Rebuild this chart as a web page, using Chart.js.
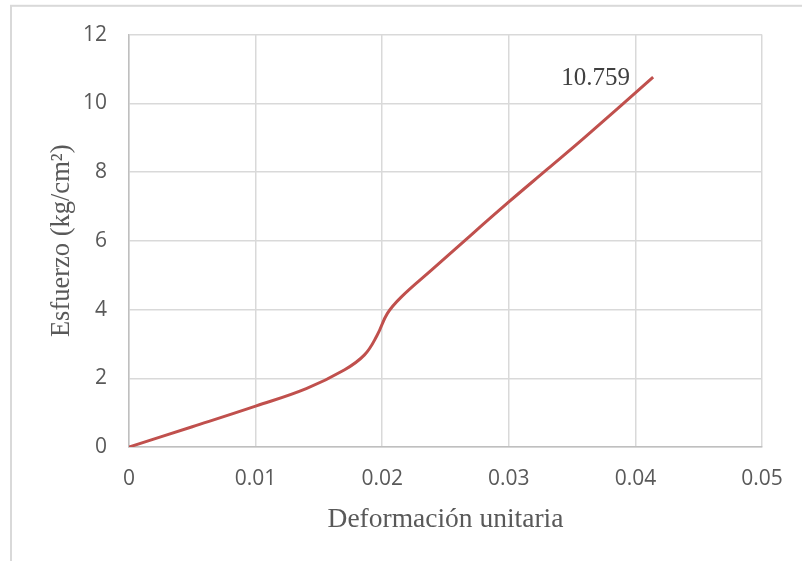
<!DOCTYPE html>
<html>
<head>
<meta charset="utf-8">
<script src="https://cdn.jsdelivr.net/npm/chart.js@4"></script>
<style>
  html, body { margin: 0; padding: 0; background: #fff; }
  canvas { display: block; }
</style>
</head>
<body>
<canvas id="c" width="802" height="561"></canvas>
<script>
// Unit strain (x) and stress in kg/cm² (y) of the test curve
const strain = [0, 0.005, 0.01, 0.0140, 0.0170, 0.0186, 0.0196, 0.0204,
                0.0215, 0.0240, 0.0265, 0.0300, 0.0330, 0.0360, 0.0414];
const stress = [0, 0.59, 1.19, 1.70, 2.24, 2.68, 3.25, 3.88,
                4.36, 5.18, 6.00, 7.13, 8.07, 9.01, 10.759];

const xTickLabels = ['0', '0.01', '0.02', '0.03', '0.04', '0.05'];
const yTickLabels = ['0', '2', '4', '6', '8', '10', '12'];

const xTitle = 'Deformación unitaria';
const yTitle = 'Esfuerzo (kg/cm²)';

const points = strain.map((x, i) => ({ x: x, y: stress[i] }));

// Outer frame and the value label at the last point
const decor = {
  id: 'decor',
  beforeDraw(chart) {
    const ctx = chart.ctx;
    ctx.save();
    ctx.fillStyle = '#ffffff';
    ctx.fillRect(0, 0, chart.width, chart.height);
    ctx.strokeStyle = '#d9d9d9';
    ctx.lineWidth = 2;
    ctx.strokeRect(11, 5.8, chart.width + 40, chart.height + 40);
    ctx.restore();
  },
  afterDatasetsDraw(chart) {
    const ctx = chart.ctx;
    const meta = chart.getDatasetMeta(0);
    const last = meta.data[meta.data.length - 1];
    ctx.save();
    ctx.font = '25px "Liberation Serif"';
    ctx.textAlign = 'right';
    ctx.textBaseline = 'middle';
    ctx.fillStyle = '#404040';
    ctx.fillText(String(stress[stress.length - 1]), last.x - 23, last.y + 1);
    ctx.restore();
  }
};

new Chart(document.getElementById('c'), {
  type: 'scatter',
  data: {
    datasets: [{
      data: points,
      showLine: true,
      borderColor: '#C0504D',
      borderWidth: 3,
      pointRadius: 0,
      pointHoverRadius: 0,
      tension: 0.4,
      fill: false
    }]
  },
  options: {
    responsive: false,
    devicePixelRatio: 1,
    animation: false,
    events: [],
    layout: { padding: { left: 0, top: 34, right: 40, bottom: 0 } },
    plugins: {
      legend: { display: false },
      tooltip: { enabled: false }
    },
    scales: {
      x: {
        type: 'linear',
        min: 0,
        max: 0.05,
        afterFit(scale) { scale.height = 114; },
        grid: { color: '#d9d9d9', lineWidth: 1.5, drawTicks: false },
        border: { color: '#bfbfbf', width: 1.5 },
        ticks: {
          stepSize: 0.01,
          padding: 19,
          color: '#595959',
          font: { family: '"Open Sans"', size: 21 },
          callback: (v, i) => xTickLabels[i]
        },
        title: {
          display: true,
          text: xTitle,
          color: '#595959',
          font: { family: '"Liberation Serif"', size: 27.5 },
          padding: { top: 0, bottom: 25 }
        }
      },
      y: {
        min: 0,
        max: 12,
        afterFit(scale) { scale.width = 129; },
        grid: { color: '#d9d9d9', lineWidth: 1.5, drawTicks: false },
        border: { color: '#bfbfbf', width: 1.5 },
        ticks: {
          stepSize: 2,
          padding: 22,
          color: '#595959',
          font: { family: '"Open Sans"', size: 21 },
          callback: (v, i) => yTickLabels[i]
        },
        title: {
          display: true,
          text: yTitle,
          color: '#595959',
          font: { family: '"Liberation Serif"', size: 26.5 },
          padding: { top: 46, bottom: 0 }
        }
      }
    }
  },
  plugins: [decor]
});
</script>
</body>
</html>
